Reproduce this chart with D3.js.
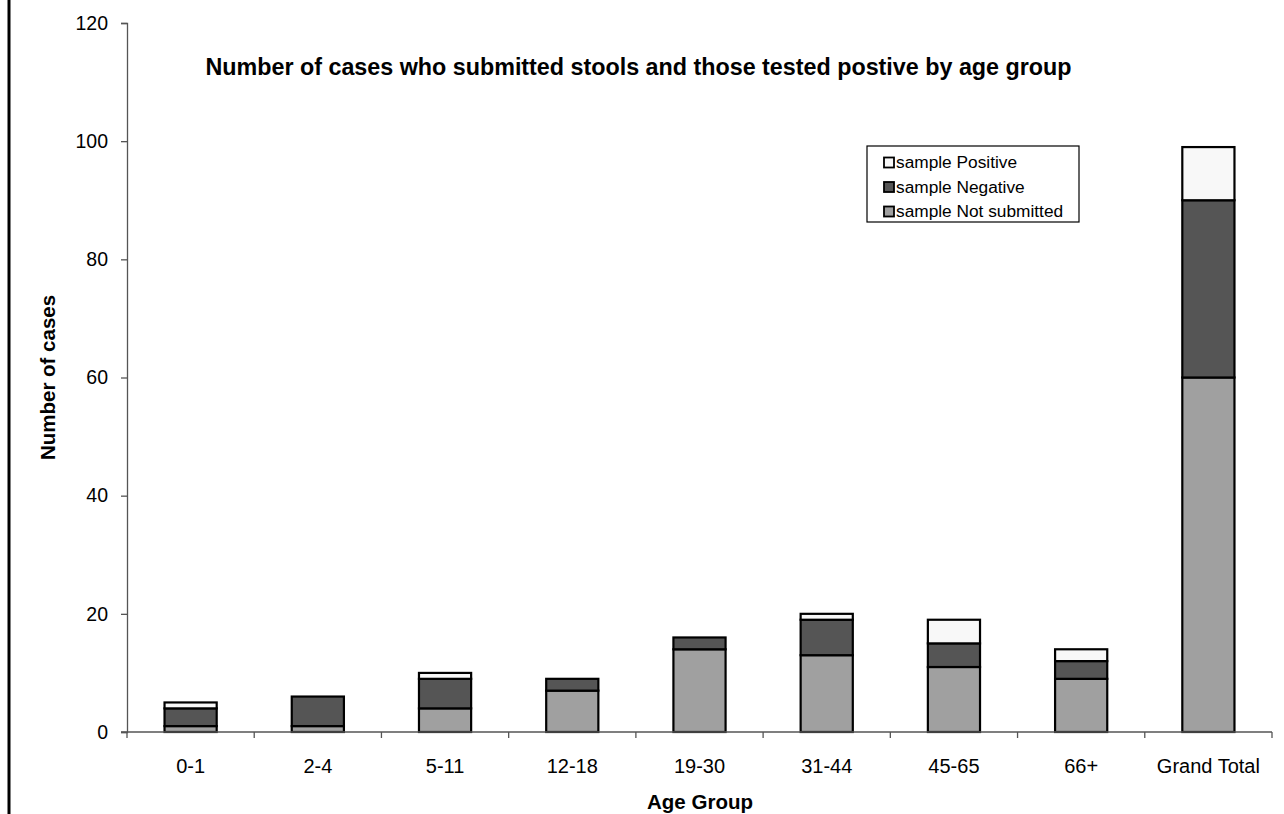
<!DOCTYPE html>
<html><head><meta charset="utf-8">
<script src="https://cdn.jsdelivr.net/npm/d3@7"></script>
<style>body{margin:0;background:#fff}svg{display:block;font-family:"Liberation Sans",Arial,sans-serif}</style>
</head><body>
<svg id="c" width="1284" height="814"></svg>
<script>
const categories = ["0-1","2-4","5-11","12-18","19-30","31-44","45-65","66+","Grand Total"];
const notSubmitted = [1,1,4,7,14,13,11,9,60];
const negative = [3,5,5,2,2,6,4,3,30];
const positive = [1,0,1,0,0,1,4,2,9];
const seriesNames = ["sample Not submitted","sample Negative","sample Positive"];
const seriesColors = ["#a0a0a0","#555555","#f8f8f8"];
const yTicks = [0,20,40,60,80,100,120];

const svg = d3.select("#c");
const m = {l:127, r:1272, t:23, b:732};
const x = d3.scaleBand().domain(categories).range([m.l, m.r]).paddingInner(0.59).paddingOuter(0.295);
const y = d3.scaleLinear().domain([0,120]).range([m.b, m.t]);

// left frame line
svg.append("line").attr("x1",9).attr("x2",9).attr("y1",0).attr("y2",814).attr("stroke","#000").attr("stroke-width",3);

const table = categories.map((c,i)=>({cat:c, s0:notSubmitted[i], s1:negative[i], s2:positive[i]}));
const stack = d3.stack().keys(["s0","s1","s2"])(table);

stack.forEach((layer,k)=>{
  svg.append("g").selectAll("rect").data(layer.filter(d=>d[1]-d[0]>0)).join("rect")
    .attr("x",d=>x(d.data.cat)).attr("width",x.bandwidth())
    .attr("y",d=>y(d[1])).attr("height",d=>y(d[0])-y(d[1]))
    .attr("fill",seriesColors[k]).attr("stroke","#000").attr("stroke-width",2.2);
});

// axes
const yAxis = svg.append("g").attr("transform",`translate(${m.l},0)`)
  .call(d3.axisLeft(y).tickValues(yTicks).tickSize(6).tickPadding(13).tickFormat(d3.format("d")));
yAxis.select(".domain").attr("stroke","#555").attr("stroke-width",1.3);
yAxis.selectAll(".tick line").attr("stroke","#555").attr("stroke-width",1.3);
yAxis.selectAll("text").attr("font-size",19.5).attr("fill","#000").attr("font-family","Liberation Sans, Arial, sans-serif");

const xAxisG = svg.append("g").attr("transform",`translate(0,${m.b})`);
xAxisG.append("line").attr("x1",m.l-6).attr("x2",m.r).attr("stroke","#555").attr("stroke-width",1.3);
const edges = categories.map(c=>x(c)-x.step()*x.paddingInner()/2).concat([m.r]);
xAxisG.selectAll("line.t").data(edges).join("line").attr("class","t")
  .attr("x1",d=>d).attr("x2",d=>d).attr("y1",0).attr("y2",6).attr("stroke","#555").attr("stroke-width",1.3);
xAxisG.selectAll("text").data(categories).join("text")
  .attr("x",d=>x(d)+x.bandwidth()/2).attr("y",41).attr("text-anchor","middle")
  .attr("font-size",20).attr("fill","#000").text(d=>d);

// titles
svg.append("text").attr("x",638.5).attr("y",75).attr("text-anchor","middle").attr("font-weight","bold").attr("font-size",23.3)
  .text("Number of cases who submitted stools and those tested postive by age group");
svg.append("text").attr("x",700).attr("y",809).attr("text-anchor","middle").attr("font-weight","bold").attr("font-size",20.5).text("Age Group");
svg.append("text").attr("transform","translate(55,377.5) rotate(-90)").attr("text-anchor","middle").attr("font-weight","bold").attr("font-size",20.5).text("Number of cases");

// legend
const lg = svg.append("g");
lg.append("rect").attr("x",867).attr("y",146).attr("width",212).attr("height",76).attr("fill","#fff").attr("stroke","#000").attr("stroke-width",1.2);
const legOrder = [2,1,0];
legOrder.forEach((k,i)=>{
  const base = 168 + i*24.5;
  lg.append("rect").attr("x",884).attr("y",base-10.5).attr("width",10).attr("height",10).attr("fill",seriesColors[k]).attr("stroke","#000").attr("stroke-width",1.8);
  lg.append("text").attr("x",896).attr("y",base).attr("font-size",17.3).text(seriesNames[k]);
});
</script>
</body></html>
